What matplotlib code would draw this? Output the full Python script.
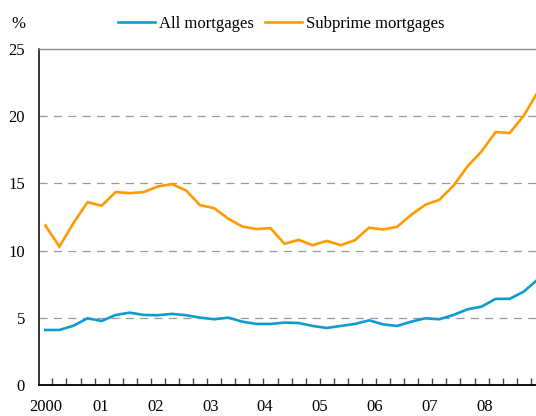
import matplotlib
matplotlib.use("Agg")
import matplotlib.pyplot as plt
from matplotlib.ticker import FixedLocator, NullFormatter

plt.rcParams["font.family"] = ["Liberation Serif", "DejaVu Serif"]

# data: quarterly, 2000Q1 .. 2008Q4 (%)
all_mortgages = [4.08, 4.08, 4.40, 4.95, 4.75, 5.20, 5.37, 5.20, 5.18, 5.28, 5.18, 5.00,
                 4.88, 5.00, 4.70, 4.53, 4.53, 4.63, 4.60, 4.38, 4.23, 4.38, 4.53, 4.80,
                 4.50, 4.38, 4.70, 4.95, 4.88, 5.20, 5.62, 5.82, 6.40, 6.40, 6.94, 7.85]
subprime = [11.87, 10.30, 12.05, 13.61, 13.34, 14.36, 14.28, 14.36, 14.78, 14.95, 14.48, 13.38,
            13.16, 12.37, 11.79, 11.60, 11.67, 10.50, 10.80, 10.40, 10.72, 10.40, 10.77, 11.70,
            11.57, 11.77, 12.66, 13.41, 13.78, 14.83, 16.27, 17.39, 18.83, 18.76, 20.05, 21.83]
year_labels = ["2000", "01", "02", "03", "04", "05", "06", "07", "08"]
y_ticks = [0, 5, 10, 15, 20, 25]

blue = "#0f9bd0"
orange = "#ff9a00"

fig = plt.figure(figsize=(5.36, 4.16), dpi=100)
ax = fig.add_axes([39 / 536, 0.0752, 1 - 39 / 536, 0.8815 - 0.0752])

x = list(range(len(all_mortgages)))
ax.plot(x, all_mortgages, color=blue, lw=1.9, label="All mortgages", solid_joinstyle="miter")
ax.plot(x, subprime, color=orange, lw=1.9, label="Subprime mortgages", solid_joinstyle="miter")

ax.set_xlim(-0.45, 34.87)
ax.set_ylim(0, 25)

# grid
for v in y_ticks[1:-1]:
    ax.axhline(v, color="#999999", lw=0.9, dashes=(6.5, 5), zorder=0)

ax.spines["right"].set_visible(False)
ax.spines["top"].set_color("#8c8c8c")
ax.spines["top"].set_linewidth(1.0)
ax.spines["left"].set_linewidth(1.1)
ax.spines["bottom"].set_linewidth(1.3)

ax.set_yticks(y_ticks)
ax.tick_params(axis="y", length=0, pad=10, labelsize=12)

# year labels sit a little off the quarter grid in the original
label_step = 3.905
ax.set_xticks([i * label_step for i in range(len(year_labels))])
ax.set_xticklabels(year_labels)
ax.xaxis.set_minor_locator(FixedLocator([k + 0.5 for k in range(len(all_mortgages))]))
ax.xaxis.set_minor_formatter(NullFormatter())
ax.tick_params(axis="x", which="major", length=0, pad=10, labelsize=12)
ax.tick_params(axis="x", which="minor", direction="in", length=5, width=1.0, color="#444444")

fig.text(25 / 536, 0.942, "%", ha="right", va="center", fontsize=12)
fig.legend(loc="center", bbox_to_anchor=(0.525, 0.942), ncol=2, frameon=False,
           fontsize=12, handlelength=2.2, handletextpad=0.25, columnspacing=0.7)

fig.savefig("out.png", dpi=100)
